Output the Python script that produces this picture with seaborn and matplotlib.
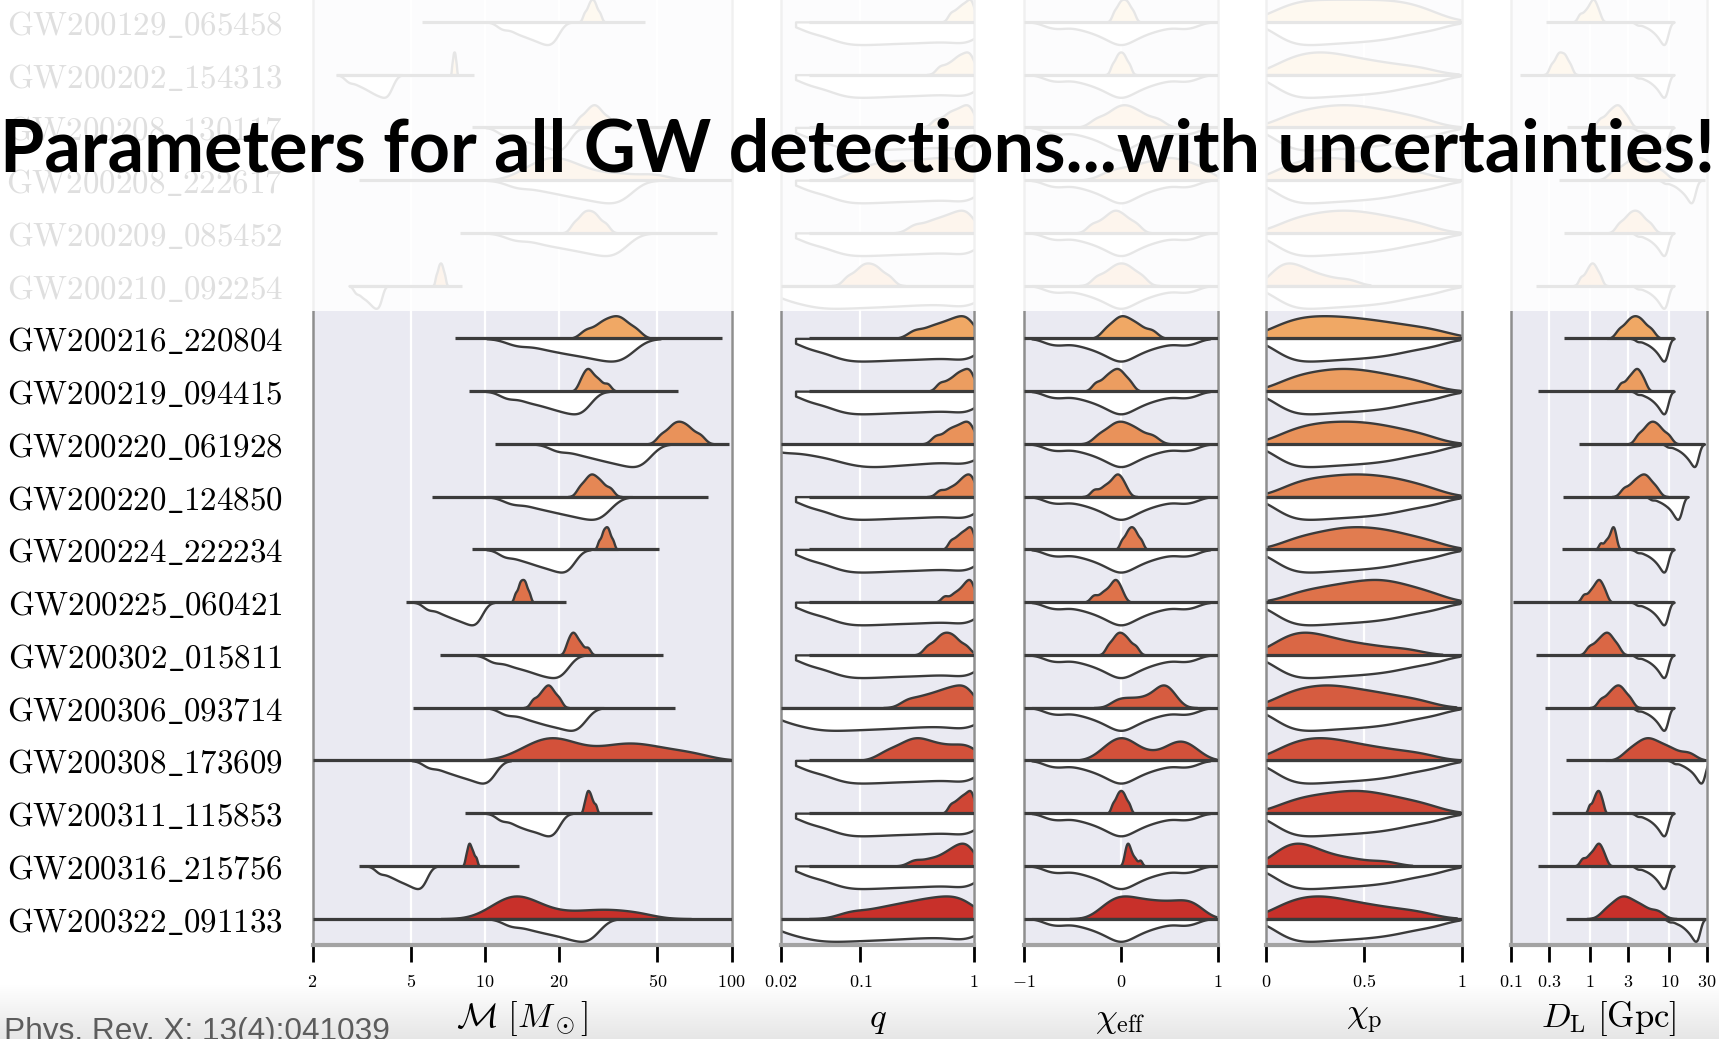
import numpy as np
import pandas as pd
import matplotlib
matplotlib.use("Agg")
import matplotlib.pyplot as plt
from matplotlib.patches import Rectangle
from matplotlib.colors import to_rgb
from matplotlib.ticker import NullLocator
import seaborn as sns

# ---------------------------------------------------------------- data
EVENTS = [
    "GW200129_065458", "GW200202_154313", "GW200208_130117", "GW200208_222617",
    "GW200209_085452", "GW200210_092254", "GW200216_220804", "GW200219_094415",
    "GW200220_061928", "GW200220_124850", "GW200224_222234", "GW200225_060421",
    "GW200302_015811", "GW200306_093714", "GW200308_173609", "GW200311_115853",
    "GW200316_215756", "GW200322_091133",
]

# chirp mass [Msun]: representative posterior / prior samples per event
MC_POST = [
    [25.3, 26.1, 26.6, 27.0, 27.4, 27.8, 28.3, 29.2],
    [7.35, 7.41, 7.45, 7.48, 7.52, 7.55, 7.59, 7.65],
    [24.1, 25.5, 26.5, 27.3, 28.1, 28.9, 30.1, 31.9],
    [14.5, 16.5, 18.0, 19.3, 20.8, 23.0, 27.0, 35.0, 48.0],
    [22.9, 24.3, 25.2, 26.0, 26.9, 27.8, 28.9, 30.9],
    [6.33, 6.44, 6.51, 6.57, 6.63, 6.69, 6.76, 6.87],
    [25.7, 28.6, 30.5, 32.2, 33.9, 35.4, 37.4, 40.9],
    [24.4, 25.3, 25.9, 26.4, 27.1, 28.1, 29.3, 31.4],
    [51.7, 55.7, 58.3, 60.5, 62.9, 65.5, 68.9, 74.6],
    [24.2, 25.5, 26.4, 27.1, 27.9, 28.9, 30.1, 32.2],
    [29.0, 29.9, 30.3, 30.8, 31.2, 31.6, 32.1, 33.0],
    [13.3, 13.7, 13.9, 14.1, 14.3, 14.5, 14.7, 15.1],
    [21.5, 22.1, 22.5, 22.9, 23.3, 23.9, 24.7, 26.1],
    [15.7, 16.6, 17.2, 17.7, 18.1, 18.5, 19.1, 20.0],
    [14.5, 16.5, 18.2, 19.5, 21.0, 25.0, 31.0, 36.0, 40.0, 46.0, 55.0, 70.0],
    [25.3, 25.8, 26.0, 26.3, 26.6, 26.9, 27.4, 28.1],
    [8.37, 8.51, 8.59, 8.66, 8.75, 8.86, 8.99, 9.20],
    [10.8, 11.8, 12.6, 13.3, 14.0, 14.9, 16.2, 19.0, 24.0, 29.0, 34.0, 42.0],
]
MC_PRIOR = [
    [11.8, 13.2, 14.2, 15.1, 15.9, 16.7, 17.4, 18.1, 18.8, 19.5],
    [2.81, 3.05, 3.24, 3.40, 3.54, 3.67, 3.79, 3.92, 4.03, 4.14],
    [11.9, 13.6, 14.8, 15.9, 16.9, 17.9, 18.9, 19.8, 20.7, 21.5],
    [13.6, 16.9, 19.8, 22.4, 24.9, 27.5, 29.9, 32.5, 35.1, 37.7],
    [13.4, 16.7, 19.3, 21.8, 24.2, 26.6, 29.0, 31.3, 33.7, 36.2],
    [3.00, 3.15, 3.26, 3.36, 3.44, 3.52, 3.58, 3.65, 3.72, 3.78],
    [13.6, 17.1, 20.0, 22.6, 25.3, 27.9, 30.5, 33.1, 35.7, 38.5],
    [12.4, 14.6, 16.3, 17.9, 19.3, 20.7, 22.0, 23.3, 24.7, 25.9],
    [19.9, 23.8, 27.0, 29.8, 32.5, 35.1, 37.7, 40.2, 42.8, 45.3],
    [13.0, 15.7, 17.9, 19.9, 21.8, 23.7, 25.5, 27.4, 29.2, 31.0],
    [12.1, 13.8, 15.2, 16.4, 17.5, 18.6, 19.6, 20.6, 21.6, 22.5],
    [5.90, 6.55, 7.04, 7.46, 7.85, 8.22, 8.57, 8.91, 9.23, 9.55],
    [10.9, 12.6, 13.9, 15.1, 16.2, 17.2, 18.2, 19.2, 20.2, 21.2],
    [12.3, 14.4, 16.0, 17.4, 18.7, 20.0, 21.3, 22.5, 23.7, 24.9],
    [5.97, 6.78, 7.41, 7.96, 8.47, 8.97, 9.44, 9.89, 10.3, 10.8],
    [11.7, 13.1, 14.1, 15.0, 15.8, 16.7, 17.4, 18.2, 18.9, 19.6],
    [3.75, 4.10, 4.38, 4.60, 4.82, 5.01, 5.20, 5.37, 5.55, 5.71],
    [12.8, 15.1, 17.0, 18.7, 20.4, 22.0, 23.5, 25.0, 26.5, 28.1],
]
MC_LO = [5.55, 2.5, 8.9, 3.1, 7.9, 2.8, 7.6, 8.6, 11.0, 6.1, 8.9, 4.8, 6.6, 5.1, 2.0, 8.3, 3.1, 2.0]
MC_HI = [44.8, 9.0, 60.0, 100.0, 87.0, 8.1, 91.6, 60.7, 98.0, 80.0, 51.0, 21.4, 52.8, 59.0, 100.0, 47.6, 13.8, 100.0]

# mass ratio
Q_POST = [
    [0.62, 0.69, 0.75, 0.80, 0.85, 0.90, 0.94, 0.98],
    [0.50, 0.59, 0.67, 0.73, 0.79, 0.855, 0.91, 0.97],
    [0.46, 0.56, 0.63, 0.70, 0.77, 0.84, 0.90, 0.97],
    [0.10, 0.15, 0.20, 0.28, 0.38, 0.50, 0.65, 0.85],
    [0.30, 0.40, 0.49, 0.58, 0.67, 0.76, 0.85, 0.95],
    [0.077, 0.092, 0.103, 0.112, 0.123, 0.135, 0.150, 0.179],
    [0.30, 0.40, 0.49, 0.58, 0.67, 0.76, 0.85, 0.95],
    [0.50, 0.59, 0.67, 0.73, 0.79, 0.855, 0.91, 0.97],
    [0.46, 0.56, 0.63, 0.70, 0.77, 0.84, 0.90, 0.97],
    [0.50, 0.60, 0.68, 0.75, 0.80, 0.85, 0.90, 0.95, 0.99],
    [0.62, 0.69, 0.75, 0.80, 0.85, 0.90, 0.94, 0.98],
    [0.55, 0.65, 0.72, 0.78, 0.83, 0.87, 0.91, 0.95, 0.98],
    [0.39, 0.46, 0.51, 0.55, 0.60, 0.65, 0.72, 0.85],
    [0.26, 0.34, 0.42, 0.50, 0.58, 0.66, 0.75, 0.84, 0.93],
    [0.17, 0.23, 0.28, 0.32, 0.38, 0.47, 0.60, 0.78, 0.95],
    [0.62, 0.69, 0.75, 0.80, 0.85, 0.90, 0.94, 0.98],
    [0.30, 0.40, 0.50, 0.58, 0.65, 0.71, 0.77, 0.83, 0.90, 0.97],
    [0.084, 0.14, 0.20, 0.265, 0.34, 0.42, 0.52, 0.625, 0.755, 0.91],
]
Q_PRIOR_A = [0.0355, 0.0543, 0.0706, 0.0883, 0.111, 0.141, 0.178, 0.229, 0.293, 0.378, 0.492, 0.644, 0.849, 1.0]
Q_PRIOR_B = [0.02, 0.0365, 0.0569, 0.0773, 0.099, 0.125, 0.158, 0.203, 0.264, 0.345, 0.46, 0.624, 0.861, 1.0]
Q_PRIOR_C = [0.02, 0.0299, 0.0404, 0.0526, 0.0692, 0.0916, 0.122, 0.164, 0.222, 0.305, 0.425, 0.596, 0.851, 1.0]
Q_PRIOR = [Q_PRIOR_A, Q_PRIOR_A, Q_PRIOR_A, Q_PRIOR_A, Q_PRIOR_A, Q_PRIOR_C,
           Q_PRIOR_A, Q_PRIOR_A, Q_PRIOR_B, Q_PRIOR_A, Q_PRIOR_A, Q_PRIOR_A,
           Q_PRIOR_A, Q_PRIOR_C, Q_PRIOR_A, Q_PRIOR_A, Q_PRIOR_A, Q_PRIOR_C]
Q_LO = [0.0355, 0.0355, 0.0355, 0.0355, 0.0355, 0.02, 0.0355, 0.0355, 0.02,
        0.0355, 0.0355, 0.0355, 0.0355, 0.02, 0.0355, 0.0355, 0.0355, 0.02]
Q_HI = [1.0] * 18

# effective inspiral spin
CHI_EFF_POST = [
    [-0.07, -0.03, -0.004, 0.018, 0.042, 0.064, 0.09, 0.13],
    [-0.09, -0.053, -0.03, -0.01, 0.01, 0.03, 0.053, 0.09],
    [-0.25, -0.12, -0.04, 0.02, 0.08, 0.15, 0.24, 0.38],
    [-0.10, 0.10, 0.25, 0.38, 0.48, 0.58, 0.70, 0.85],
    [-0.30, -0.20, -0.13, -0.08, -0.04, 0.01, 0.07, 0.16],
    [-0.25, -0.15, -0.08, -0.03, 0.02, 0.07, 0.13, 0.22],
    [-0.154, -0.071, -0.019, 0.024, 0.074, 0.133, 0.205, 0.32],
    [-0.259, -0.176, -0.124, -0.081, -0.044, -0.011, 0.029, 0.093],
    [-0.225, -0.122, -0.058, -0.006, 0.052, 0.118, 0.198, 0.326],
    [-0.274, -0.185, -0.129, -0.082, -0.049, -0.026, 0.002, 0.047],
    [0.01, 0.052, 0.078, 0.10, 0.12, 0.142, 0.168, 0.21],
    [-0.279, -0.196, -0.144, -0.101, -0.07, -0.051, -0.027, 0.012],
    [-0.13, -0.076, -0.042, -0.014, 0.016, 0.049, 0.089, 0.153],
    [-0.05, 0.05, 0.15, 0.25, 0.33, 0.39, 0.43, 0.46, 0.50, 0.56],
    [-0.18, -0.09, -0.03, 0.02, 0.07, 0.14, 0.30, 0.48, 0.56, 0.62, 0.68, 0.77],
    [-0.084, -0.049, -0.027, -0.009, 0.009, 0.027, 0.049, 0.084],
    [0.04, 0.055, 0.065, 0.075, 0.085, 0.10, 0.12, 0.15, 0.20],
    [-0.18, -0.08, -0.01, 0.06, 0.14, 0.23, 0.32, 0.42, 0.52, 0.62, 0.71, 0.79],
]
CHI_EFF_PRIOR_ALL = [-0.760, -0.670, -0.591, -0.480, -0.397, -0.331, -0.276, -0.229,
                     -0.187, -0.151, -0.118, -0.088, -0.060, -0.035, -0.011, 0.011,
                     0.035, 0.060, 0.088, 0.118, 0.151, 0.187, 0.229, 0.276, 0.331,
                     0.397, 0.480, 0.591, 0.670, 0.760]
CHI_EFF_PRIOR = [CHI_EFF_PRIOR_ALL] * 18
CHI_EFF_LO = [-1.0] * 18
CHI_EFF_HI = [1.0] * 18

# precessing spin
CHI_P_POST = [
    [0.08, 0.16, 0.24, 0.32, 0.40, 0.48, 0.56, 0.64, 0.72, 0.82],
    [0.08, 0.14, 0.20, 0.25, 0.30, 0.35, 0.41, 0.48, 0.56, 0.66, 0.79],
    [0.10, 0.18, 0.25, 0.31, 0.37, 0.42, 0.48, 0.54, 0.61, 0.69, 0.80],
    [0.08, 0.15, 0.21, 0.27, 0.32, 0.37, 0.43, 0.50, 0.57, 0.66, 0.78],
    [0.10, 0.18, 0.25, 0.31, 0.37, 0.42, 0.48, 0.54, 0.61, 0.69, 0.80],
    [0.04, 0.07, 0.10, 0.13, 0.16, 0.20, 0.25, 0.32, 0.42],
    [0.06, 0.13, 0.19, 0.25, 0.31, 0.37, 0.43, 0.50, 0.57, 0.65, 0.75, 0.87],
    [0.10, 0.18, 0.25, 0.31, 0.37, 0.42, 0.48, 0.54, 0.61, 0.69, 0.80],
    [0.10, 0.18, 0.25, 0.31, 0.37, 0.43, 0.49, 0.55, 0.62, 0.70, 0.81],
    [0.12, 0.20, 0.27, 0.34, 0.40, 0.46, 0.52, 0.58, 0.65, 0.72, 0.83],
    [0.13, 0.22, 0.30, 0.36, 0.42, 0.47, 0.53, 0.59, 0.65, 0.73, 0.84],
    [0.15, 0.25, 0.33, 0.40, 0.46, 0.52, 0.57, 0.62, 0.68, 0.75, 0.85],
    [0.06, 0.11, 0.15, 0.19, 0.23, 0.28, 0.33, 0.40, 0.48, 0.58, 0.72],
    [0.08, 0.15, 0.21, 0.27, 0.32, 0.37, 0.43, 0.50, 0.57, 0.66, 0.78],
    [0.08, 0.14, 0.20, 0.25, 0.30, 0.35, 0.41, 0.48, 0.56, 0.66, 0.79],
    [0.10, 0.19, 0.26, 0.33, 0.39, 0.45, 0.50, 0.56, 0.63, 0.71, 0.82],
    [0.05, 0.09, 0.12, 0.15, 0.18, 0.21, 0.25, 0.30, 0.37, 0.46, 0.60],
    [0.07, 0.13, 0.19, 0.24, 0.29, 0.34, 0.40, 0.47, 0.55, 0.65, 0.78],
]
CHI_P_PRIOR_ALL = [0.0565, 0.098, 0.130, 0.163, 0.196, 0.230, 0.264, 0.299, 0.335, 0.372,
                   0.410, 0.448, 0.487, 0.527, 0.569, 0.613, 0.660, 0.712, 0.785, 0.87]
CHI_P_PRIOR = [CHI_P_PRIOR_ALL] * 18
CHI_P_LO = [0.0] * 18
CHI_P_HI = [1.0] * 18

# luminosity distance [Gpc]
DL_POST = [
    [0.74, 0.85, 0.94, 1.01, 1.07, 1.12, 1.18, 1.29],
    [0.32, 0.36, 0.39, 0.41, 0.44, 0.47, 0.50, 0.56],
    [1.33, 1.61, 1.81, 2.00, 2.18, 2.35, 2.58, 2.99],
    [1.97, 2.64, 3.18, 3.70, 4.29, 4.99, 6.00, 8.05],
    [2.31, 2.79, 3.15, 3.48, 3.83, 4.23, 4.76, 5.77],
    [0.76, 0.87, 0.95, 1.01, 1.07, 1.13, 1.21, 1.34],
    [2.32, 2.82, 3.18, 3.52, 3.88, 4.30, 4.85, 5.90],
    [2.45, 2.91, 3.24, 3.54, 3.80, 4.03, 4.33, 4.83],
    [4.04, 4.82, 5.40, 5.92, 6.47, 7.14, 8.04, 9.70],
    [2.67, 3.31, 3.79, 4.25, 4.69, 5.12, 5.70, 6.78],
    [1.35, 1.55, 1.69, 1.81, 1.90, 1.95, 2.01, 2.11],
    [0.83, 0.98, 1.09, 1.18, 1.26, 1.32, 1.41, 1.55],
    [0.97, 1.17, 1.33, 1.47, 1.60, 1.73, 1.90, 2.21],
    [1.36, 1.65, 1.87, 2.07, 2.25, 2.45, 2.71, 3.18],
    [3.03, 4.03, 4.82, 5.60, 6.71, 8.43, 11.1, 17.3],
    [0.98, 1.08, 1.15, 1.20, 1.25, 1.30, 1.35, 1.44],
    [0.80, 0.95, 1.06, 1.16, 1.24, 1.30, 1.38, 1.52],
    [1.59, 2.05, 2.39, 2.73, 3.18, 3.85, 4.85, 7.01],
]
DL_PRIOR_10 = [4.01, 4.75, 5.32, 5.78, 6.18, 6.53, 6.85, 7.14, 7.41, 7.67,
               7.90, 8.12, 8.33, 8.53, 8.73, 8.91, 9.09, 9.26, 9.42]
DL_PRIOR = [
    DL_PRIOR_10, DL_PRIOR_10, DL_PRIOR_10,
    [8.86, 10.5, 11.8, 12.8, 13.7, 14.4, 15.1, 15.8, 16.4, 16.9,
     17.5, 18.0, 18.4, 18.9, 19.3, 19.7, 20.1, 20.5, 20.8],
    DL_PRIOR_10, DL_PRIOR_10, DL_PRIOR_10, DL_PRIOR_10,
    [9.71, 11.5, 12.9, 14.0, 15.0, 15.8, 16.6, 17.3, 17.9, 18.6,
     19.1, 19.7, 20.2, 20.7, 21.1, 21.6, 22.0, 22.4, 22.8],
    [6.03, 7.15, 8.01, 8.69, 9.30, 9.82, 10.3, 10.8, 11.2, 11.5,
     11.9, 12.2, 12.5, 12.8, 13.1, 13.4, 13.7, 13.9, 14.2],
    DL_PRIOR_10, DL_PRIOR_10, DL_PRIOR_10, DL_PRIOR_10,
    [11.8, 14.0, 15.7, 17.0, 18.2, 19.2, 20.2, 21.1, 21.8, 22.6,
     23.3, 23.9, 24.6, 25.1, 25.7, 26.3, 26.8, 27.3, 27.8],
    DL_PRIOR_10, DL_PRIOR_10,
    [10.1, 12.0, 13.4, 14.6, 15.6, 16.5, 17.3, 18.0, 18.7, 19.4,
     20.0, 20.5, 21.0, 21.6, 22.1, 22.5, 23.0, 23.4, 23.8],
]
DL_LO = [0.28, 0.13, 0.51, 0.40, 0.47, 0.21, 0.47, 0.22, 0.73, 0.46, 0.44, 0.107,
         0.21, 0.27, 0.50, 0.33, 0.22, 0.50]
DL_HI = [11.6, 11.5, 11.5, 28.0, 11.5, 11.5, 11.5, 11.5, 27.6, 16.9, 11.5, 11.5,
         11.5, 11.5, 27.6, 11.5, 11.5, 28.4]

MC_TICKS = [2, 5, 10, 20, 50, 100]
Q_TICKS = [0.02, 0.1, 1]
CHI_EFF_TICKS = [-1, 0, 1]
CHI_P_TICKS = [0, 0.5, 1]
DL_TICKS = [0.1, 0.3, 1, 3, 10, 30]

ROW_COLORS = [
    "#FAD08C", "#F8C886", "#F7C07F", "#F5B878", "#F4B171", "#F2AB6B",
    "#F0A865", "#EC9D60", "#E9925A", "#E58755", "#E17C50", "#DE724A",
    "#DA6745", "#D65C40", "#D3513A", "#CF4635", "#CC3B2F", "#C8302A",
]

TITLE = "Parameters for all GW detections...with uncertainties!"
SOURCE = "Phys. Rev. X: 13(4):041039"

# ---------------------------------------------------------------- style
sns.set_theme(style="darkgrid")
plt.rcParams["mathtext.fontset"] = "cm"
plt.rcParams["font.family"] = ["DejaVu Sans"]

FIG_W, FIG_H = 1719, 1039
AX_BOTTOM_PX = 945
AX_HEIGHT_PX = 949.5
EDGE = "#3b3b3b"
POST_KEY = "#7f7f7f"

fig = plt.figure(figsize=(FIG_W / 100, FIG_H / 100), dpi=100)
fig.patch.set_facecolor("white")


def long_frame(samples, kind):
    recs = [(ev, v, kind) for ev, vals in zip(EVENTS, samples) for v in vals]
    return pd.DataFrame(recs, columns=["event", "value", "kind"])


def tick_text(values):
    return ["$%s$" % format(v, "g") for v in values]


PANELS = [
    dict(post=MC_POST, prior=MC_PRIOR, lo=MC_LO, hi=MC_HI, log=True, lim=(2, 100),
         ticks=MC_TICKS, xlabel=r"$\mathcal{M}\ [M_\odot]$", px=(312.5, 731.5),
         post_kw=dict(cut=3, bw_adjust=0.6), prior_kw=dict(cut=2.5, bw_adjust=0.55)),
    dict(post=Q_POST, prior=Q_PRIOR, lo=Q_LO, hi=Q_HI, log=True, lim=(0.02, 1),
         ticks=Q_TICKS, xlabel=r"$q$", px=(781, 974),
         post_kw=dict(cut=3, bw_adjust=0.6), prior_kw=dict(cut=1, bw_adjust=0.45)),
    dict(post=CHI_EFF_POST, prior=CHI_EFF_PRIOR, lo=CHI_EFF_LO, hi=CHI_EFF_HI, log=False,
         lim=(-1, 1), ticks=CHI_EFF_TICKS, xlabel=r"$\chi_{\rm eff}$", px=(1024, 1217.5),
         post_kw=dict(cut=3, bw_adjust=0.6), prior_kw=dict(cut=2, bw_adjust=0.42)),
    dict(post=CHI_P_POST, prior=CHI_P_PRIOR, lo=CHI_P_LO, hi=CHI_P_HI, log=False,
         lim=(0, 1), ticks=CHI_P_TICKS, xlabel=r"$\chi_{\rm p}$", px=(1266, 1462),
         post_kw=dict(cut=2, bw_adjust=0.7), prior_kw=dict(cut=1.5, bw_adjust=0.6)),
    dict(post=DL_POST, prior=DL_PRIOR, lo=DL_LO, hi=DL_HI, log=True, lim=(0.1, 30),
         ticks=DL_TICKS, xlabel=r"$D_{\rm L}\ [{\rm Gpc}]$", px=(1511, 1707),
         post_kw=dict(cut=3, bw_adjust=0.6), prior_kw=dict(cut=2.5, bw_adjust=0.6)),
]

row_labels = ["$\\mathrm{" + ev.replace("_", "\\_") + "}$" for ev in EVENTS]
key_rgb = np.array(to_rgb(POST_KEY))

for i, pan in enumerate(PANELS):
    x0, x1 = pan["px"]
    ax = fig.add_axes([x0 / FIG_W, (FIG_H - AX_BOTTOM_PX) / FIG_H,
                       (x1 - x0) / FIG_W, AX_HEIGHT_PX / FIG_H])
    ax.set_facecolor("#EAEAF2")

    for kind, samples, kw in (("posterior", pan["post"], pan["post_kw"]),
                              ("prior", pan["prior"], pan["prior_kw"])):
        sns.violinplot(
            data=long_frame(samples, kind), x="value", y="event", hue="kind",
            order=EVENTS, hue_order=["posterior", "prior"], split=True, dodge=True,
            orient="y", palette={"posterior": POST_KEY, "prior": "white"},
            saturation=1, density_norm="width", common_norm=False, inner=None,
            width=0.86, linewidth=1.7, linecolor=EDGE,
            log_scale=True if pan["log"] else None, legend=False, ax=ax, **kw)

    # colour each posterior half by its event
    for coll in ax.collections:
        fc = coll.get_facecolor()
        if len(fc) and np.allclose(np.asarray(fc[0][:3]), key_rgb, atol=0.01):
            verts = coll.get_paths()[0].vertices
            row = int(round(float(np.median(verts[:, 1]))))
            coll.set_facecolor(ROW_COLORS[row])

    # support of each event's distributions
    ax.hlines(np.arange(len(EVENTS)), pan["lo"], pan["hi"], color=EDGE, lw=2.3,
              zorder=3, capstyle="butt")

    ax.set_xlim(*pan["lim"])
    ax.set_ylim(len(EVENTS) - 0.5, -0.5)
    ax.set_xticks(pan["ticks"])
    ax.set_xticklabels(tick_text(pan["ticks"]))
    ax.xaxis.set_minor_locator(NullLocator())
    ax.tick_params(axis="x", which="major", bottom=True, top=False, direction="out",
                   length=12, width=2, color="black", labelsize=13, pad=8,
                   labelcolor="black")
    ax.grid(axis="x", color="white", lw=1.6)
    ax.grid(axis="y", visible=False)

    for side in ("left", "right"):
        ax.spines[side].set_visible(True)
        ax.spines[side].set_color("#8e8e8e")
        ax.spines[side].set_linewidth(1.8)
    ax.spines["bottom"].set_visible(True)
    ax.spines["bottom"].set_color("#a3a3a3")
    ax.spines["bottom"].set_linewidth(3.0)
    ax.spines["top"].set_visible(False)

    ax.set_xlabel(pan["xlabel"], fontsize=25, color="black")
    ax.xaxis.set_label_coords(0.5, -74 / AX_HEIGHT_PX)
    ax.xaxis.label.set_va("center")
    ax.set_ylabel("")

    if i == 0:
        ax.set_yticks(range(len(EVENTS)))
        ax.set_yticklabels(row_labels)
        ax.tick_params(axis="y", left=False, length=0, pad=21, labelsize=23.8,
                       labelcolor="black")
    else:
        ax.tick_params(axis="y", left=False, labelleft=False, length=0)

# light shading along the bottom edge
gax = fig.add_axes([0, 0, 1, 55 / FIG_H], zorder=-1)
gax.axis("off")
shade = np.ones((64, 2, 4))
shade[..., :3] = 0.905
shade[..., 3] = np.linspace(0.0, 1.0, 64)[:, None]
gax.imshow(shade, aspect="auto", extent=(0, 1, 0, 1))

# washed-out band behind the headline
fig.add_artist(Rectangle((0, 1 - 311 / FIG_H), 1, 311 / FIG_H, transform=fig.transFigure,
                         facecolor="white", edgecolor="none", alpha=0.88, zorder=5))

title = fig.text(858 / FIG_W, 1 - 171 / FIG_H, TITLE, ha="center", va="baseline",
                 fontsize=52, fontweight="bold", family=["Lato", "DejaVu Sans"],
                 color="black", zorder=6)
source = fig.text(4 / FIG_W, -1 / FIG_H, SOURCE, ha="left", va="baseline",
                  fontsize=22.5, family=["Liberation Sans", "DejaVu Sans"],
                  color="#5c5c5c", zorder=6)

fig.canvas.draw()
w = title.get_window_extent().width
title.set_fontsize(52 * 1714 / w)
w = source.get_window_extent().width
source.set_fontsize(22.5 * 387 / w)

fig.savefig("out.png", dpi=100, facecolor="white")
